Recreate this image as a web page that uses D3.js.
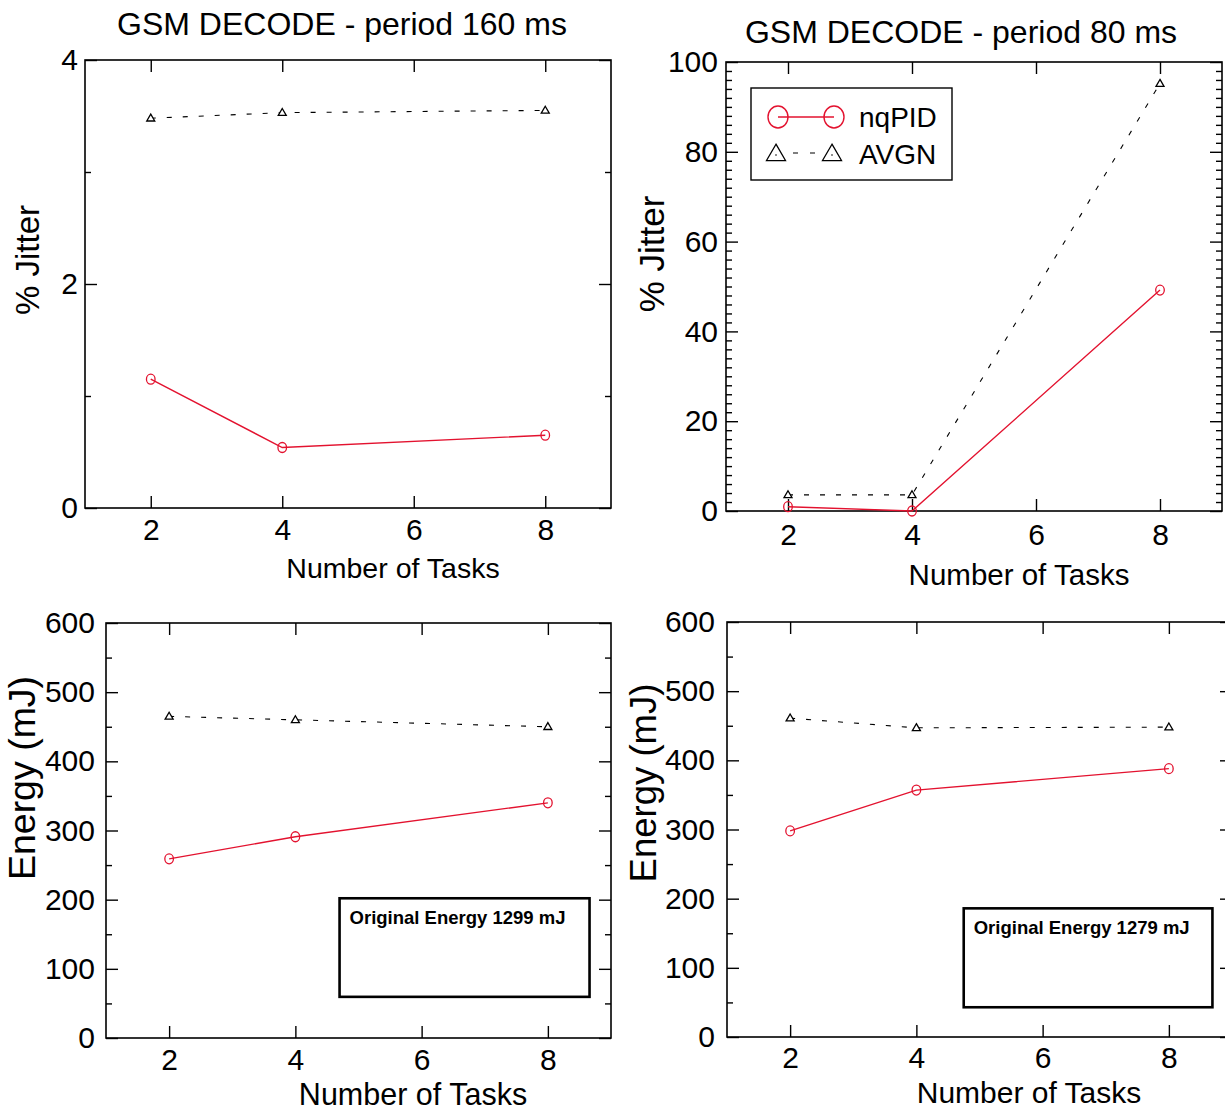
<!DOCTYPE html>
<html>
<head>
<meta charset="utf-8">
<script src="https://cdn.jsdelivr.net/npm/d3@7/dist/d3.min.js"></script>
<style>
  body { margin: 0; background: #fff; }
  text { font-family: "Liberation Sans", Arial, sans-serif; fill: #000; }
</style>
</head>
<body>
<svg id="chart" width="1225" height="1114"></svg>
<script>
/**
 * DATA
 */
const TASKS = [2, 4, 8];
const X_TICKS = [2, 4, 6, 8];
const SERIES_NAMES = ["nqPID", "AVGN"];

const JITTER_160_NQPID = [1.15, 0.54, 0.65];
const JITTER_160_AVGN = [3.48, 3.53, 3.55];
const JITTER_80_NQPID = [0.96, 0.0, 49.2];
const JITTER_80_AVGN = [3.6, 3.6, 95.2];
const ENERGY_160_NQPID = [259, 291, 340];
const ENERGY_160_AVGN = [465, 460, 450];
const ENERGY_80_NQPID = [298, 357, 388];
const ENERGY_80_AVGN = [461, 447, 448];

const JITTER_160_TICKS = [0, 2, 4];
const JITTER_80_TICKS = [0, 20, 40, 60, 80, 100];
const ENERGY_TICKS = [0, 100, 200, 300, 400, 500, 600];

/**
 * MACROS
 */
RED = "#e3122f";
FONT = "\"Liberation Sans\", Arial, sans-serif";

const svg = d3.select("#chart");

/**
 * Triangle path centered on (0,0)
 * @param {float} w width
 */
function trianglePath(w){
    let h = w * 0.86;
    return "M0," + (-h * 0.6) + "L" + (w / 2) + "," + (h * 0.4) + "L" + (-w / 2) + "," + (h * 0.4) + "Z";
}

/**
 * Draw one panel
 * @param {*} p
 */
function drawPanel(p){
    let g = svg.append("g");
    let x = d3.scaleLinear().domain([1, 9]).range([p.left, p.right]);
    let y = d3.scaleLinear().domain([p.yTicks[0], p.yTicks[p.yTicks.length - 1]]).range([p.bottom, p.top]);
    let minor = d3.range(p.yTicks[0], p.yTicks[p.yTicks.length - 1] + 1e-9, p.yMinor)
        .filter(v => p.yTicks.indexOf(v) < 0);

    // ticks on the four sides, pointing inward
    let sides = [
        [d3.axisRight(y), "translate(" + p.left + ",0)"],
        [d3.axisLeft(y), "translate(" + p.right + ",0)"]
    ];
    for ( let s of sides ){
        g.append("g").attr("transform", s[1])
            .call(s[0].tickValues(p.yTicks).tickSize(12).tickFormat(""));
        g.append("g").attr("transform", s[1])
            .call(s[0].tickValues(minor).tickSize(6).tickFormat(""));
    }
    g.append("g").attr("transform", "translate(0," + p.bottom + ")")
        .call(d3.axisTop(x).tickValues(X_TICKS).tickSize(12).tickFormat(""));
    g.append("g").attr("transform", "translate(0," + p.top + ")")
        .call(d3.axisBottom(x).tickValues(X_TICKS).tickSize(12).tickFormat(""));
    g.selectAll(".domain").remove();
    g.selectAll(".tick line").attr("stroke", "#000").attr("stroke-width", 1.4);

    // frame
    g.append("rect")
        .attr("x", p.left).attr("y", p.top)
        .attr("width", p.right - p.left).attr("height", p.bottom - p.top)
        .attr("fill", "none").attr("stroke", "#000").attr("stroke-width", 1.6);

    // tick labels
    let yl = g.append("g").attr("transform", "translate(" + p.left + ",0)")
        .call(d3.axisLeft(y).tickValues(p.yTicks).tickSize(0).tickPadding(p.yPad).tickFormat(d3.format("d")));
    let xl = g.append("g").attr("transform", "translate(0," + p.bottom + ")")
        .call(d3.axisBottom(x).tickValues(X_TICKS).tickSize(0).tickPadding(p.xPad).tickFormat(d3.format("d")));
    for ( let a of [yl, xl] ){
        a.select(".domain").remove();
        a.attr("font-family", FONT).attr("font-size", p.tickFont);
        a.selectAll("text").attr("fill", "#000");
    }

    // series
    let line = d3.line().x((d, i) => x(TASKS[i])).y(d => y(d));
    g.append("path").datum(p.avgn)
        .attr("d", line).attr("fill", "none")
        .attr("stroke", "#000").attr("stroke-width", 1.1)
        .attr("stroke-dasharray", "5,11");
    g.append("path").datum(p.nqpid)
        .attr("d", line).attr("fill", "none")
        .attr("stroke", RED).attr("stroke-width", 1.4);

    g.selectAll(".tri").data(p.avgn).enter().append("path")
        .attr("class", "tri")
        .attr("transform", (d, i) => "translate(" + x(TASKS[i]) + "," + y(d) + ")")
        .attr("d", trianglePath(8))
        .attr("fill", "#fff").attr("stroke", "#000").attr("stroke-width", 1.3);
    g.selectAll(".circ").data(p.nqpid).enter().append("ellipse")
        .attr("class", "circ")
        .attr("cx", (d, i) => x(TASKS[i])).attr("cy", d => y(d))
        .attr("rx", 4.3).attr("ry", 5)
        .attr("fill", "none").attr("stroke", RED).attr("stroke-width", 1.3);

    // texts
    if ( p.title ){
        g.append("text").attr("x", p.title[1]).attr("y", p.title[2])
            .attr("text-anchor", "middle").attr("font-size", p.title[3])
            .text(p.title[0]);
    }
    g.append("text").attr("x", p.xLabel[1]).attr("y", p.xLabel[2])
        .attr("text-anchor", "middle").attr("font-size", p.xLabel[3])
        .text(p.xLabel[0]);
    g.append("text")
        .attr("transform", "translate(" + p.yLabel[1] + "," + p.yLabel[2] + ") rotate(-90)")
        .attr("text-anchor", "middle").attr("font-size", p.yLabel[3])
        .text(p.yLabel[0]);

    // energy note box
    if ( p.note ){
        let n = p.note;
        g.append("rect")
            .attr("x", x(n.x0)).attr("y", y(n.y1))
            .attr("width", x(n.x1) - x(n.x0)).attr("height", y(n.y0) - y(n.y1))
            .attr("fill", "none").attr("stroke", "#000").attr("stroke-width", 2.6);
        g.append("text")
            .attr("x", x(n.x0) + 10).attr("y", y(n.y1) + 26)
            .attr("font-size", 18.5).attr("font-weight", "bold")
            .text(n.text);
    }

    // legend
    if ( p.legend ){
        let lg = g.append("g").attr("transform", "translate(751,88)");
        lg.append("rect").attr("width", 201).attr("height", 92)
            .attr("fill", "#fff").attr("stroke", "#000").attr("stroke-width", 1.4);
        lg.append("line").attr("x1", 27).attr("x2", 83).attr("y1", 29).attr("y2", 29)
            .attr("stroke", RED).attr("stroke-width", 1.4);
        for ( let cx of [27, 83] ){
            lg.append("ellipse").attr("cx", cx).attr("cy", 29).attr("rx", 10).attr("ry", 11)
                .attr("fill", "none").attr("stroke", RED).attr("stroke-width", 1.4);
            lg.append("path").attr("transform", "translate(" + (cx - 2) + ",66)")
                .attr("d", trianglePath(19))
                .attr("fill", "none").attr("stroke", "#000").attr("stroke-width", 1.3);
            lg.append("circle").attr("cx", cx - 2).attr("cy", 67).attr("r", 0.8).attr("fill", "#000");
        }
        lg.append("line").attr("x1", 42).attr("x2", 66).attr("y1", 65).attr("y2", 65)
            .attr("stroke", "#000").attr("stroke-width", 1.1).attr("stroke-dasharray", "5,12");
        lg.selectAll(".lt").data(SERIES_NAMES).enter().append("text")
            .attr("x", 108).attr("y", (d, i) => 39 + i * 37)
            .attr("font-size", 28).text(d => d);
    }
}

drawPanel({
    left: 85, right: 611, top: 60, bottom: 508,
    yTicks: JITTER_160_TICKS, yMinor: 1, yPad: 7, xPad: 11, tickFont: 30,
    nqpid: JITTER_160_NQPID, avgn: JITTER_160_AVGN,
    title: ["GSM DECODE - period 160 ms", 342, 35, 32],
    xLabel: ["Number of Tasks", 393, 578, 28.5],
    yLabel: ["% Jitter", 39, 260, 33]
});

drawPanel({
    left: 726, right: 1222, top: 62, bottom: 511,
    yTicks: JITTER_80_TICKS, yMinor: 2, yPad: 8, xPad: 13, tickFont: 30,
    nqpid: JITTER_80_NQPID, avgn: JITTER_80_AVGN,
    title: ["GSM DECODE - period 80 ms", 961, 43, 32],
    xLabel: ["Number of Tasks", 1019, 585, 29.5],
    yLabel: ["% Jitter", 664, 254, 35],
    legend: true
});

drawPanel({
    left: 106, right: 611, top: 623, bottom: 1038,
    yTicks: ENERGY_TICKS, yMinor: 50, yPad: 11, xPad: 11, tickFont: 30,
    nqpid: ENERGY_160_NQPID, avgn: ENERGY_160_AVGN,
    xLabel: ["Number of Tasks", 413, 1105, 30.5],
    yLabel: ["Energy (mJ)", 35, 778, 37.5],
    note: { x0: 4.7, x1: 8.66, y0: 59.5, y1: 202, text: "Original Energy 1299 mJ" }
});

drawPanel({
    left: 727, right: 1232, top: 622, bottom: 1037,
    yTicks: ENERGY_TICKS, yMinor: 50, yPad: 12, xPad: 10, tickFont: 30,
    nqpid: ENERGY_80_NQPID, avgn: ENERGY_80_AVGN,
    xLabel: ["Number of Tasks", 1029, 1103, 30],
    yLabel: ["Energy (mJ)", 656, 783, 36.5],
    note: { x0: 4.75, x1: 8.69, y0: 43, y1: 186, text: "Original Energy 1279 mJ" }
});
</script>
</body>
</html>
